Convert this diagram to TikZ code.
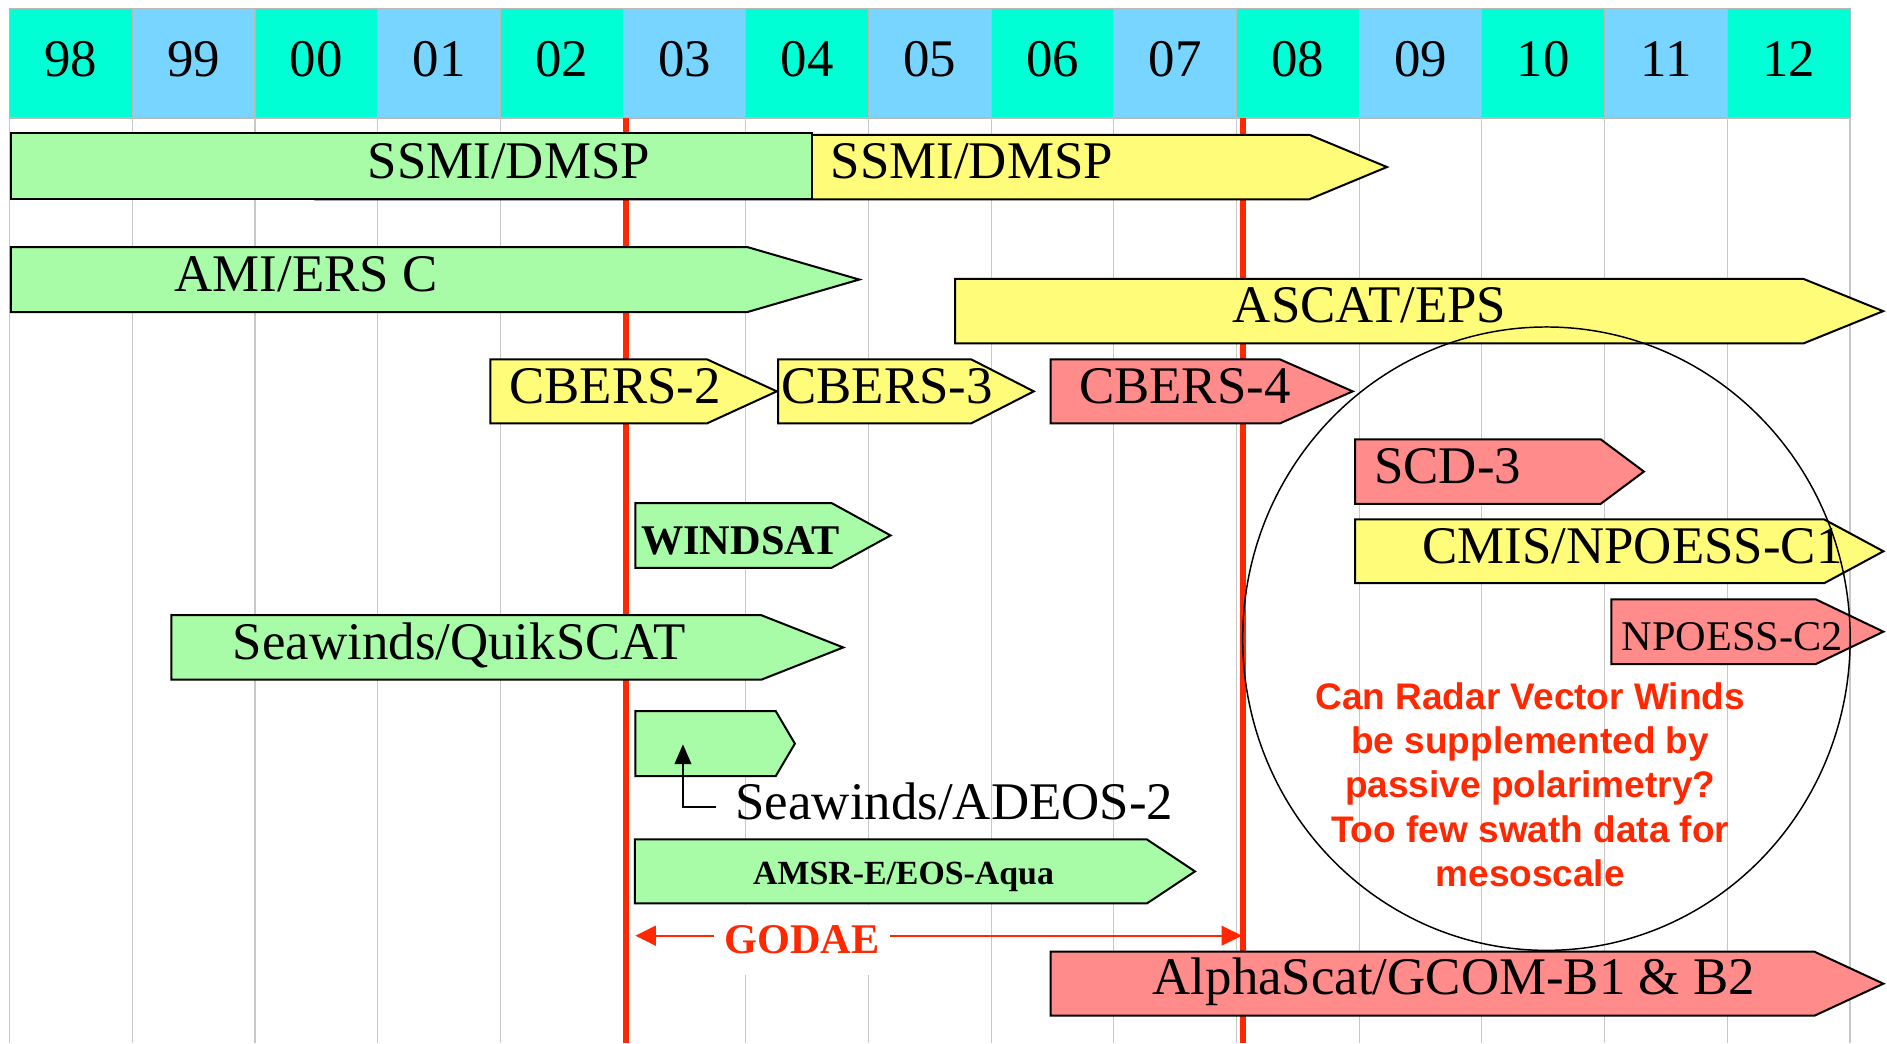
\documentclass[tikz,border=0pt]{standalone}
\usepackage{fontspec}
\setmainfont{Liberation Serif}
\newfontfamily\notefont{Liberation Sans}
\usetikzlibrary{positioning,arrows.meta}

\definecolor{hdrgreen}{RGB}{0,255,212}
\definecolor{hdrblue}{RGB}{120,213,255}
\definecolor{hdrgray}{RGB}{185,185,185}
\definecolor{gridgray}{RGB}{200,200,200}
\definecolor{bargreen}{RGB}{168,252,168}
\definecolor{baryellow}{RGB}{255,252,122}
\definecolor{barsalmon}{RGB}{255,140,138}
\definecolor{godaered}{RGB}{255,40,0}

\newcommand{\satbar}[6]{%
  \draw[satbar, fill=#1] (#2,#5) -- (#3,#5) -- (#4,{(#5+#6)/2}) -- (#3,#6) -- (#2,#6) -- cycle;}

\tikzset{
  yearcell/.style={draw=hdrgray, line width=0.5pt, inner sep=0pt, outer sep=0pt,
    minimum width=20.39mm, minimum height=18.28mm, text height=6.1mm, text depth=1.6mm,
    font=\fontsize{25}{30}\selectfont},
  yeargreen/.style={yearcell, fill=hdrgreen},
  yearblue/.style={yearcell, fill=hdrblue},
  hdrrule/.style={draw=hdrgray, line width=1.1pt},
  gridline/.style={draw=gridgray, line width=0.5pt},
  milestone/.style={draw=godaered, line width=2.9pt},
  satbar/.style={draw=black, line width=0.95pt},
  satlbl/.style={inner sep=0pt, anchor=base, font=\fontsize{25}{30}\selectfont},
  smalllbl/.style={satlbl, font=\fontsize{20}{24}\selectfont},
  boldlbl/.style={satlbl, font=\fontsize{20}{24}\selectfont\bfseries},
  godaelbl/.style={fill=white, text=godaered, inner xsep=1.7mm, inner ysep=0pt,
    minimum height=11.6mm, font=\fontsize{20}{24}\selectfont\bfseries},
  godaeline/.style={draw=godaered, line width=0.8pt, -{Triangle[length=3.4mm,width=3.3mm]}},
  callout/.style={draw=black, line width=0.7pt, -{Triangle[length=3.3mm,width=2.8mm]}},
  bubble/.style={draw=black, line width=0.7pt},
  questionnote/.style={align=center, text=godaered, inner sep=0pt,
    font=\notefont\bfseries\fontsize{17.5}{21}\selectfont}
}

\begin{document}
\begin{tikzpicture}[x=0.2mm, y=-0.2mm]
    \useasboundingbox (0,0) rectangle (1568,867);

    \node[yeargreen] (y98) at (58.98,52.6) {98};
    \node[yearblue, right=0pt of y98] (y99) {99};
    \node[yeargreen, right=0pt of y99] (y00) {00};
    \node[yearblue, right=0pt of y00] (y01) {01};
    \node[yeargreen, right=0pt of y01] (y02) {02};
    \node[yearblue, right=0pt of y02] (y03) {03};
    \node[yeargreen, right=0pt of y03] (y04) {04};
    \node[yearblue, right=0pt of y04] (y05) {05};
    \node[yeargreen, right=0pt of y05] (y06) {06};
    \node[yearblue, right=0pt of y06] (y07) {07};
    \node[yeargreen, right=0pt of y07] (y08) {08};
    \node[yearblue, right=0pt of y08] (y09) {09};
    \node[yeargreen, right=0pt of y09] (y10) {10};
    \node[yearblue, right=0pt of y10] (y11) {11};
    \node[yeargreen, right=0pt of y11] (y12) {12};
    \draw[hdrrule] (y98.south west) -- (y12.south east);

    \foreach \col in {0,...,15}
        \draw[gridline] ({8+\col*101.95},98.3) -- ({8+\col*101.95},867);

    \draw[milestone] (520.5,98.3) -- (520.5,867);
    \draw[milestone] (1033,98.3) -- (1033,867);

    \satbar{baryellow}{262}{1088}{1152.5}{112}{165.6}
    \draw[satbar, fill=bargreen] (9,110.8) rectangle (675,165);
    \satbar{bargreen}{9}{621}{714}{205.3}{259.3}
    \satbar{baryellow}{793.6}{1498.7}{1564.8}{231.8}{285.3}
    \satbar{baryellow}{407.5}{587.5}{645.5}{298.6}{351.8}
    \satbar{baryellow}{646.6}{807}{859}{298.6}{351.8}
    \satbar{barsalmon}{873}{1063.5}{1124}{298.6}{351.8}
    \satbar{barsalmon}{1126}{1330}{1366}{365}{418.7}
    \satbar{bargreen}{528}{691}{740}{418}{471.8}
    \satbar{baryellow}{1126}{1515.8}{1565}{431.6}{484.6}
    \satbar{bargreen}{142.4}{632.6}{700.7}{511.2}{564.8}
    \satbar{barsalmon}{1339}{1508.8}{1565}{498}{551.8}
    \satbar{bargreen}{528}{644.6}{660.5}{590.9}{644.9}
    \satbar{bargreen}{527.5}{953}{993}{697.5}{750.7}
    \satbar{barsalmon}{873}{1507.7}{1565}{790.8}{844}

    \node[satlbl] (ssmiold) at (422.8,148.5) {SSMI/DMSP};
    \node[satlbl] (ssminew) at (807.5,148.5) {SSMI/DMSP};
    \node[satlbl] (ami) at (254.5,242) {AMI/ERS C};
    \node[satlbl] (ascat) at (1138,268) {ASCAT/EPS};
    \node[satlbl] (cbers2) at (511,335) {CBERS-2};
    \node[satlbl] (cbers3) at (737,335) {CBERS-3};
    \node[satlbl] (cbers4) at (984.5,335) {CBERS-4};
    \node[satlbl] (scd3) at (1203,402) {SCD-3};
    \node[boldlbl] (windsat) at (615.5,460.4) {WINDSAT};
    \node[satlbl] (cmis) at (1356.5,468) {CMIS/NPOESS-C1};
    \node[satlbl] (quikscat) at (381.5,547.6) {Seawinds/QuikSCAT};
    \node[smalllbl] (npoess2) at (1439.3,540.7) {NPOESS-C2};
    \node[satlbl] (adeos) at (793,680.8) {Seawinds/ADEOS-2};
    \node[boldlbl, font=\fontsize{16}{19}\selectfont\bfseries] (amsr) at (750.8,734.6) {AMSR-E/EOS-Aqua};
    \node[satlbl] (alphascat) at (1208,826) {AlphaScat/GCOM-B1 \& B2};

    \coordinate (adeostip) at (567.5,618.5);
    \coordinate (adeoselbow) at (567.5,670.6);
    \draw[callout] ([xshift=-3.2mm]adeos.west |- adeoselbow) -- (adeoselbow) -- (adeostip);

    \node[godaelbl] (godae) at (666.4,781) {GODAE};
    \coordinate (godaeL) at (528,777.5);
    \coordinate (godaeR) at (1032,777.5);
    \draw[godaeline] (godae.west |- godaeL) -- (godaeL);
    \draw[godaeline] (godae.east |- godaeR) -- (godaeR);

    \draw[bubble] (1285,530.7) ellipse [x radius=252.4, y radius=259];
    \node[questionnote] (question) at (1271.5,652) {Can Radar Vector Winds\\be supplemented by\\passive polarimetry?\\Too few swath data for\\mesoscale};
\end{tikzpicture}
\end{document}
